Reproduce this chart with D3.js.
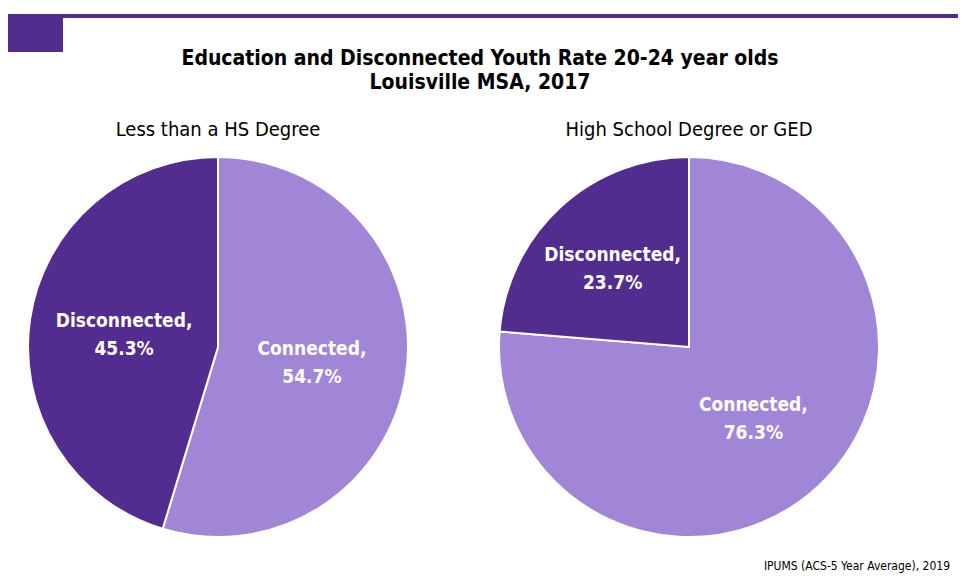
<!DOCTYPE html>
<html><head><meta charset="utf-8">
<script src="https://cdn.jsdelivr.net/npm/d3@7"></script>
<style>body{margin:0;background:#fff}text{font-family:"DejaVu Sans Condensed","DejaVu Sans",sans-serif}</style>
</head><body><svg id="c" width="964" height="579"></svg>
<script>
const groups = ["Less than a HS Degree", "High School Degree or GED"];
const categories = ["Connected", "Disconnected"];
const connected = [54.7, 76.3];
const disconnected = [45.3, 23.7];
const colors = ["#A185D6", "#522D8F"];

const svg = d3.select("#c");
svg.append("rect").attr("x",8).attr("y",14).attr("width",950).attr("height",4).attr("fill","#522D8F");
svg.append("rect").attr("x",8).attr("y",14).attr("width",55).attr("height",38).attr("fill","#522D8F");
svg.append("text").attr("x",480).attr("y",65).attr("text-anchor","middle").attr("font-size",21).attr("font-weight","bold").attr("fill","#000").text("Education and Disconnected Youth Rate 20-24 year olds");
svg.append("text").attr("x",480).attr("y",89).attr("text-anchor","middle").attr("font-size",21).attr("font-weight","bold").attr("fill","#000").text("Louisville MSA, 2017");
svg.append("text").attr("x",950).attr("y",570).attr("text-anchor","end").attr("font-size",12).attr("fill","#000").text("IPUMS (ACS-5 Year Average), 2019");

const centers = [218, 689];
const r = 190, cy = 347;
const pie = d3.pie().sort(null).value(d=>d.v);
const arc = d3.arc().innerRadius(0).outerRadius(r);
groups.forEach((g,i)=>{
  svg.append("text").attr("x",centers[i]).attr("y",136).attr("text-anchor","middle").attr("font-size",20).attr("fill","#000").text(g);
  const data = [{c:categories[0],v:connected[i]},{c:categories[1],v:disconnected[i]}];
  const gg = svg.append("g").attr("transform",`translate(${centers[i]},${cy})`);
  const arcs = pie(data);
  gg.selectAll("path").data(arcs).join("path").attr("d",arc).attr("fill",(d,j)=>colors[j]).attr("stroke","#fff").attr("stroke-width",2);
  arcs.forEach(a=>{
    let [x,y] = arc.centroid(a);
    if (i===1 && a.data.c==="Disconnected") { x -= 12; y -= 10; }
    const t = gg.append("text").attr("text-anchor","middle").attr("font-size",19).attr("font-weight","bold").attr("fill","#fff");
    t.append("tspan").attr("x",x).attr("y",y-6).text(a.data.c+",");
    t.append("tspan").attr("x",x).attr("y",y+22).text(a.data.v.toFixed(1)+"%");
  });
});
</script></body></html>
